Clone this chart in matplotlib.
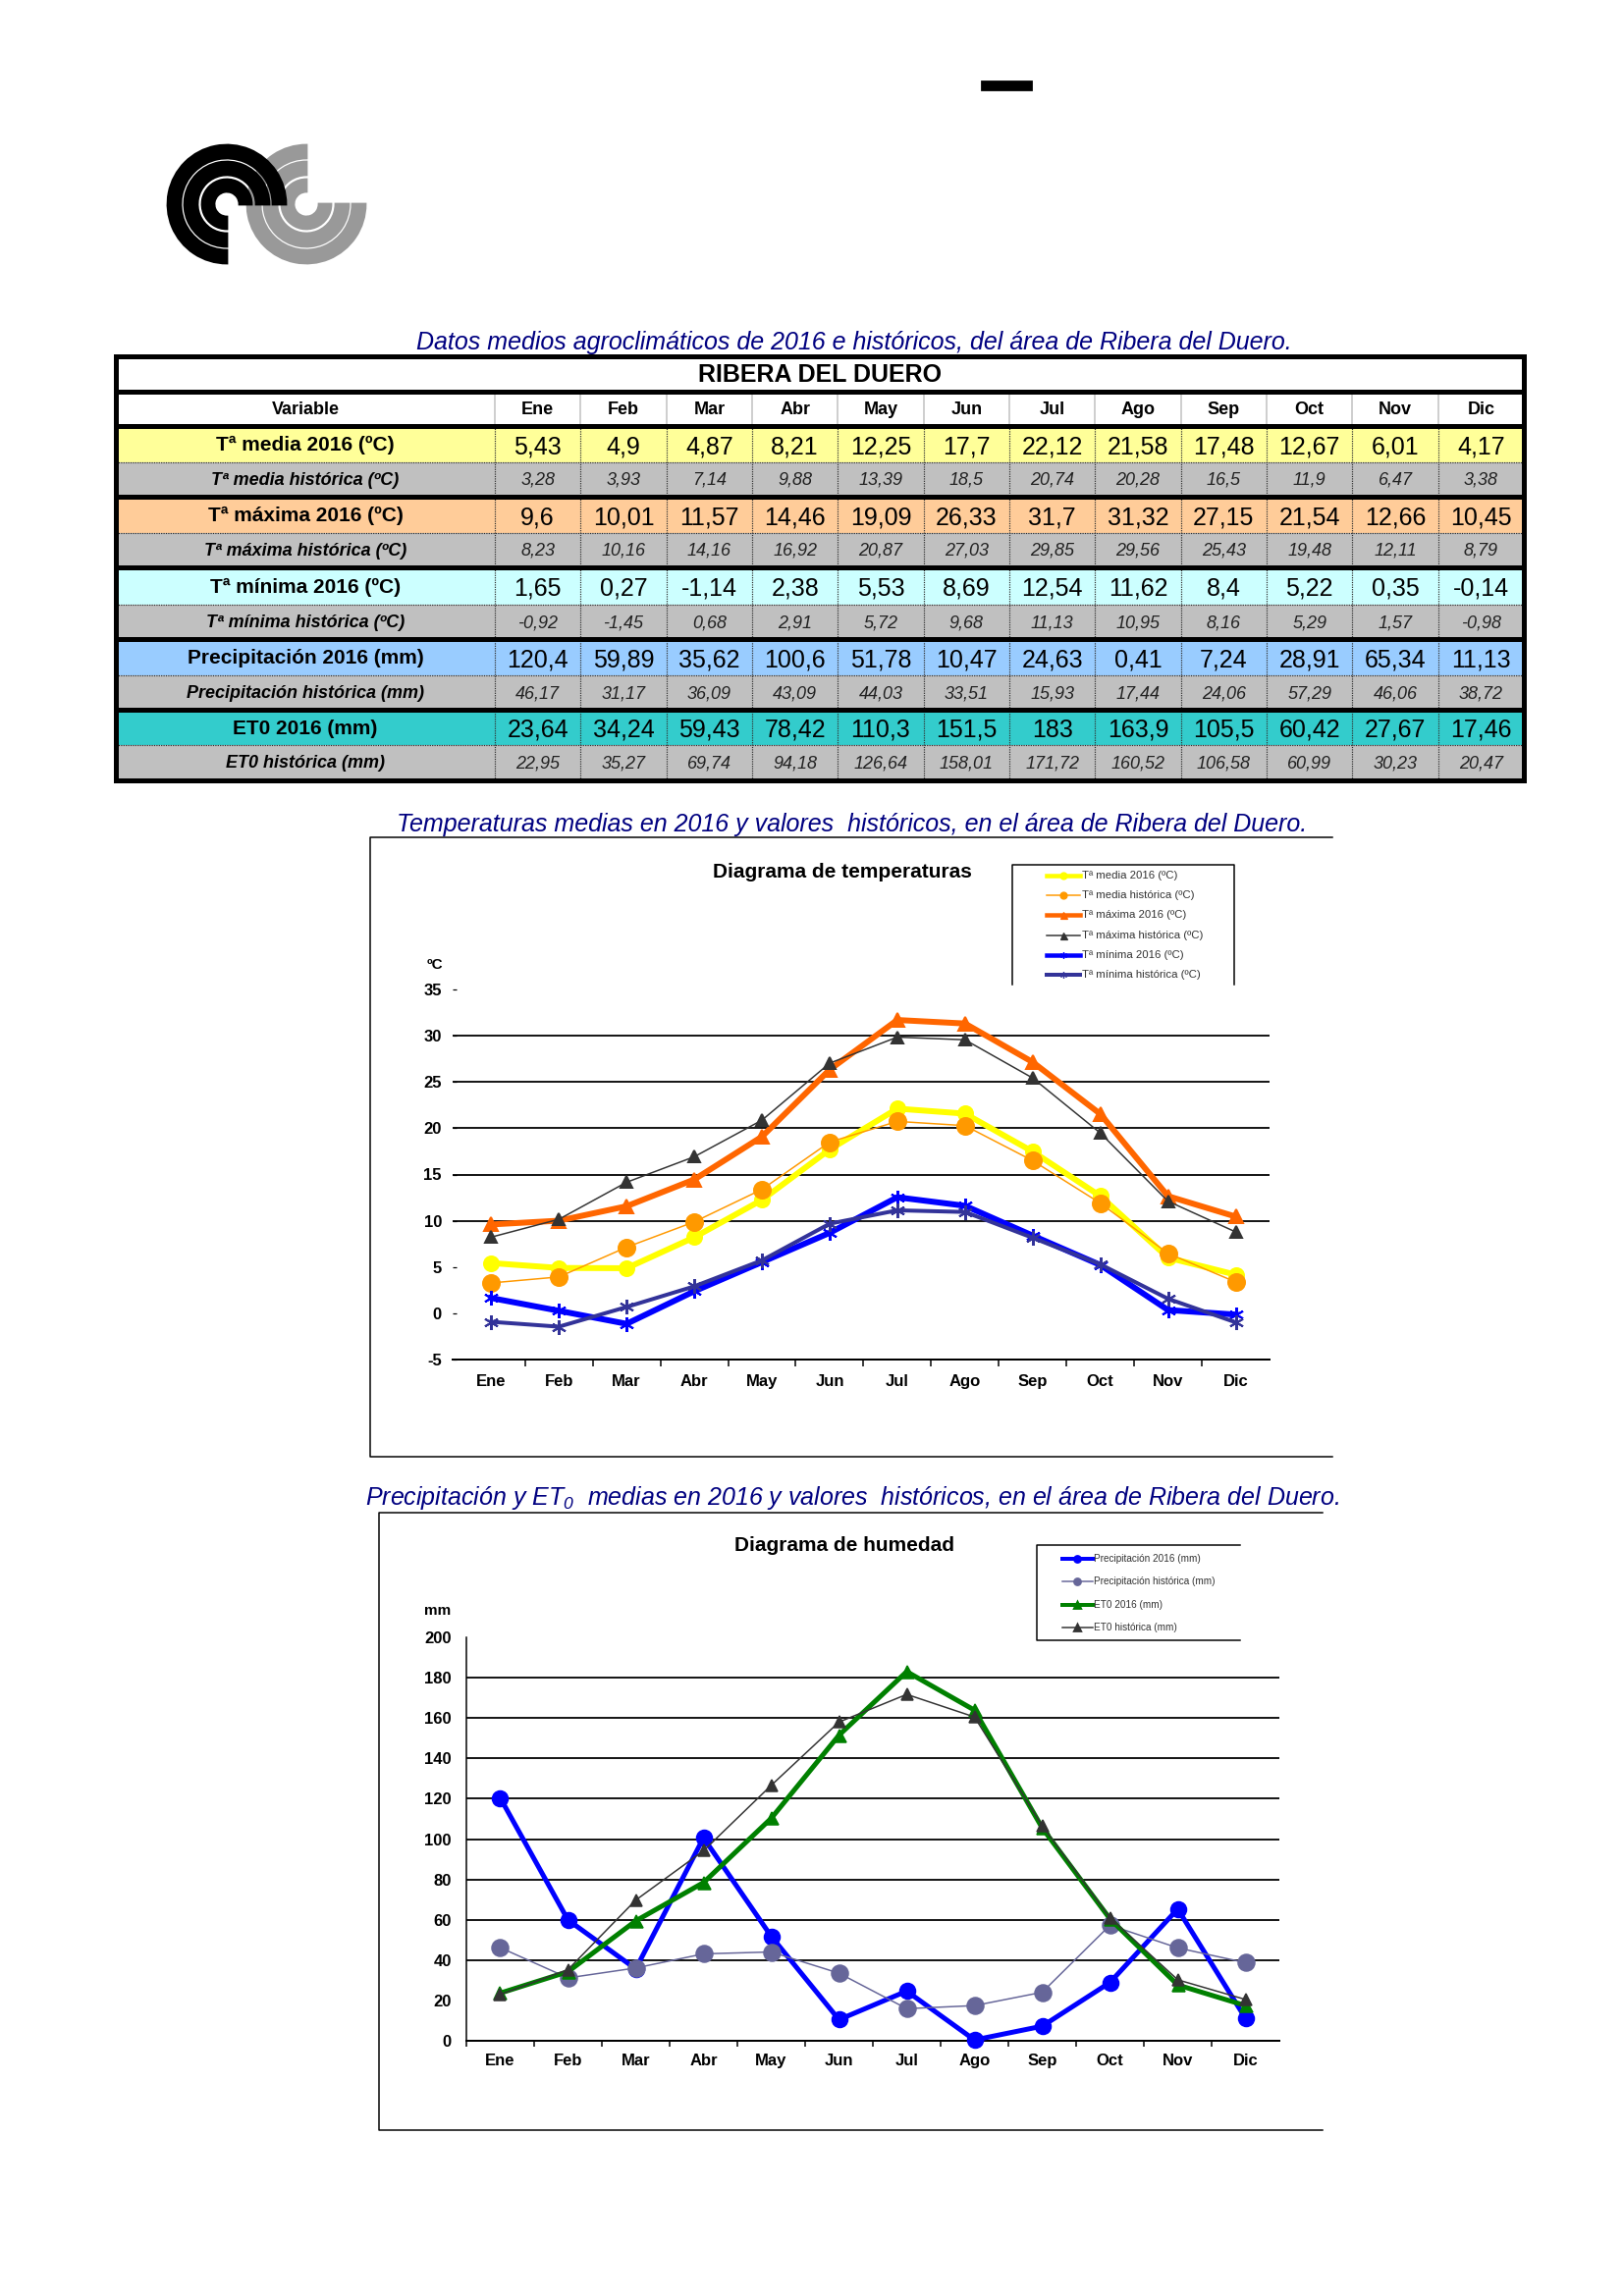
import numpy as np
import matplotlib.pyplot as plt
from matplotlib.patches import Rectangle, Wedge

plt.rcParams['font.family'] = ['Liberation Sans', 'DejaVu Sans']
plt.rcParams['axes.unicode_minus'] = False
plt.rcParams['mathtext.fontset'] = 'custom'
plt.rcParams['mathtext.rm'] = 'Liberation Sans:italic'
plt.rcParams['mathtext.it'] = 'Liberation Sans:italic'

# ---- data (Ribera del Duero, 2016 vs histórico) ----
months = ['Ene', 'Feb', 'Mar', 'Abr', 'May', 'Jun', 'Jul', 'Ago', 'Sep', 'Oct', 'Nov', 'Dic']
t_media_2016 = [5.43, 4.9, 4.87, 8.21, 12.25, 17.7, 22.12, 21.58, 17.48, 12.67, 6.01, 4.17]
t_media_hist = [3.28, 3.93, 7.14, 9.88, 13.39, 18.5, 20.74, 20.28, 16.5, 11.9, 6.47, 3.38]
t_max_2016 = [9.6, 10.01, 11.57, 14.46, 19.09, 26.33, 31.7, 31.32, 27.15, 21.54, 12.66, 10.45]
t_max_hist = [8.23, 10.16, 14.16, 16.92, 20.87, 27.03, 29.85, 29.56, 25.43, 19.48, 12.11, 8.79]
t_min_2016 = [1.65, 0.27, -1.14, 2.38, 5.53, 8.69, 12.54, 11.62, 8.4, 5.22, 0.35, -0.14]
t_min_hist = [-0.92, -1.45, 0.68, 2.91, 5.72, 9.68, 11.13, 10.95, 8.16, 5.29, 1.57, -0.98]
prec_2016 = [120.4, 59.89, 35.62, 100.6, 51.78, 10.47, 24.63, 0.41, 7.24, 28.91, 65.34, 11.13]
prec_hist = [46.17, 31.17, 36.09, 43.09, 44.03, 33.51, 15.93, 17.44, 24.06, 57.29, 46.06, 38.72]
et0_2016 = [23.64, 34.24, 59.43, 78.42, 110.3, 151.5, 183, 163.9, 105.5, 60.42, 27.67, 17.46]
et0_hist = [22.95, 35.27, 69.74, 94.18, 126.64, 158.01, 171.72, 160.52, 106.58, 60.99, 30.23, 20.47]

row_labels = ['Tª media 2016 (ºC)', 'Tª media histórica (ºC)',
              'Tª máxima 2016 (ºC)', 'Tª máxima histórica (ºC)',
              'Tª mínima 2016 (ºC)', 'Tª mínima histórica (ºC)',
              'Precipitación 2016 (mm)', 'Precipitación histórica (mm)',
              'ET0 2016 (mm)', 'ET0 histórica (mm)']
row_values = [t_media_2016, t_media_hist, t_max_2016, t_max_hist, t_min_2016,
              t_min_hist, prec_2016, prec_hist, et0_2016, et0_hist]
row_colors = ['#FFFF99', '#C0C0C0', '#FFCC99', '#C0C0C0', '#CCFFFF',
              '#C0C0C0', '#99CCFF', '#C0C0C0', '#33CCCC', '#C0C0C0']

temp_labels = row_labels[:6]
hum_labels = row_labels[6:]

W, H, DPI = 1653, 2339, 200


def px(v):
    # pixels -> points
    return v * 72 / DPI


def box(x0, x1, ytop, ybot):
    return [x0 / W, 1 - ybot / H, (x1 - x0) / W, (ybot - ytop) / H]


fig = plt.figure(figsize=(W / DPI, H / DPI), dpi=DPI)
page = fig.add_axes([0, 0, 1, 1])
page.set_xlim(0, W)
page.set_ylim(H, 0)
page.axis('off')

# ---- header: logo and dash ----
page.add_patch(Rectangle((1000, 83), 50, 8, color='black'))
for r, w in [(60, 13), (43, 13), (25, 12)]:
    page.add_patch(Wedge((312, 208), r, 0, 270, width=w, color='#999999'))
for r, w in [(60, 13), (43, 13), (25, 12)]:
    page.add_patch(Wedge((231, 208), r, 90, 360, width=w, color='black'))

navy = '#000080'

# ---- table ----
page.text(870, 349, 'Datos medios agroclimáticos de 2016 e históricos, del área de Ribera del Duero.',
          ha='center', va='center', fontsize=9, style='italic', color=navy)

tx0, tx1, var_r = 118, 1552, 504
col_w = (tx1 - var_r) / 12
edges = [363, 399, 434, 471, 506, 543, 578, 616, 651, 688, 723, 759, 795]

page.text((tx0 + tx1) / 2, (edges[0] + edges[1]) / 2 + 1, 'RIBERA DEL DUERO',
          ha='center', va='center', fontsize=9, fontweight='bold')
page.text((tx0 + var_r) / 2, (edges[1] + edges[2]) / 2 + 1, 'Variable',
          ha='center', va='center', fontsize=6.5, fontweight='bold')
for j, m in enumerate(months):
    page.text(var_r + col_w * (j + 0.5), (edges[1] + edges[2]) / 2 + 1, m,
              ha='center', va='center', fontsize=6.5, fontweight='bold')

for i, (lab, vals, col) in enumerate(zip(row_labels, row_values, row_colors)):
    top, bot = edges[2 + i], edges[3 + i]
    mid = (top + bot) / 2 + 1
    hist = i % 2 == 1
    page.add_patch(Rectangle((tx0, top), tx1 - tx0, bot - top, fc=col, ec='none', zorder=0))
    page.text((tx0 + var_r) / 2, mid, lab, ha='center', va='center',
              fontsize=6.5 if hist else 7.5, fontweight='bold',
              style='italic' if hist else 'normal')
    for j, v in enumerate(vals):
        page.text(var_r + col_w * (j + 0.5), mid + (0 if hist else 2),
                  '{:g}'.format(v).replace('.', ','), ha='center', va='center',
                  fontsize=6.5 if hist else 9, style='italic' if hist else 'normal',
                  color='#222222' if hist else 'black')

for k in range(13):
    xv = var_r + col_w * k
    page.plot([xv, xv], [edges[1], edges[2]], color='#C0C0C0', lw=px(1.5))
    if k < 12:
        page.plot([xv, xv], [edges[2], edges[-1]], color='#303030', lw=px(1.2),
                  ls=(0, (1, 1)))
for e in edges[3:-1:2]:
    page.plot([tx0, tx1], [e, e], color='#303030', lw=px(1.2), ls=(0, (1, 1)))
for e in [edges[1], edges[2]] + edges[4:-1:2]:
    page.plot([tx0, tx1], [e, e], color='black', lw=px(5))
page.add_patch(Rectangle((tx0, edges[0]), tx1 - tx0, edges[-1] - edges[0],
                         fc='none', ec='black', lw=px(5), zorder=5))

# ---- temperature chart ----
page.text(868, 840, 'Temperaturas medias en 2016 y valores  históricos, en el área de Ribera del Duero.',
          ha='center', va='center', fontsize=9, style='italic', color=navy)
page.plot([1357, 377, 377, 1357], [853, 853, 1484, 1484], color='black', lw=px(1.5))
page.text(858, 888, 'Diagrama de temperaturas', ha='center', va='center',
          fontsize=7.5, fontweight='bold')
page.text(443, 983, 'ºC', ha='center', va='center', fontsize=5.5, fontweight='bold')

ast = (6, 2, 0)
temp_series = [t_media_2016, t_media_hist, t_max_2016, t_max_hist, t_min_2016, t_min_hist]
temp_styles = [('#FFFF00', 6, 'o', 15), ('#FF9900', 1.5, 'o', 17),
               ('#FF6600', 6, '^', 14), ('#333333', 1.5, '^', 12),
               ('#0000FF', 6, ast, 15), ('#333399', 4, ast, 15)]

x = np.arange(12)
ax1 = fig.add_axes(box(461, 1293, 1008, 1385))
ax1.patch.set_alpha(0)
for yv in [10, 15, 20, 25, 30]:
    ax1.axhline(yv, color='black', lw=px(1.8), zorder=1)
for ys, (c, lw, mk, ms) in zip(temp_series, temp_styles):
    ax1.plot(x, ys, color=c, lw=px(lw), marker=mk, ms=px(ms), mec=c, mfc=c,
             mew=px(2), clip_on=False, zorder=3)
ax1.set_xlim(-0.57, 11.5)
ax1.set_ylim(-5, 35)
for s in ['top', 'right', 'left']:
    ax1.spines[s].set_visible(False)
ax1.spines['bottom'].set_linewidth(px(2))
ax1.set_xticks(x)
ax1.set_xticklabels(months, fontsize=6, fontweight='bold')
ax1.set_xticks(np.arange(0.5, 11, 1), minor=True)
ax1.tick_params(axis='x', which='major', length=0, pad=px(15))
ax1.tick_params(axis='x', which='minor', length=px(7), width=px(1.5))
ax1.set_yticks(range(-5, 40, 5))
ax1.set_yticklabels([str(v) for v in range(-5, 40, 5)], fontsize=6, fontweight='bold')
ax1.tick_params(axis='y', direction='in', length=px(4), width=px(1.2), pad=px(11))

# legend
page.plot([1031, 1031, 1257, 1257], [1003, 881, 881, 1003], color='black', lw=px(1.5))
for k, (lab, (c, lw, mk, ms)) in enumerate(zip(temp_labels, temp_styles)):
    yl = 892 + 20.2 * k
    page.plot([1066, 1100], [yl, yl], color=c, lw=px(min(lw, 4.5)))
    page.plot([1083], [yl], marker=mk, ms=px(7), color=c, mew=px(1.2))
    page.text(1102, yl, lab, ha='left', va='center', fontsize=4.1, color='#333333')

# ---- humidity chart ----
page.text(868, 1526, 'Precipitación y ET$_0$  medias en 2016 y valores  históricos, en el área de Ribera del Duero.',
          ha='center', va='center', fontsize=9, style='italic', color=navy)
page.plot([1347, 386, 386, 1347], [1541, 1541, 2170, 2170], color='black', lw=px(1.5))
page.text(860, 1574, 'Diagrama de humedad', ha='center', va='center',
          fontsize=7.5, fontweight='bold')
page.text(446, 1641, 'mm', ha='center', va='center', fontsize=5.5, fontweight='bold')

hum_series = [prec_2016, prec_hist, et0_2016, et0_hist]
hum_styles = [('#0000FF', 5, 'o', 16), ('#666699', 1.5, 'o', 17),
              ('#008000', 5, '^', 13), ('#333333', 1.5, '^', 12)]

ax2 = fig.add_axes(box(475, 1303, 1668, 2079))
ax2.patch.set_alpha(0)
for yv in range(40, 200, 20):
    ax2.axhline(yv, color='black', lw=px(1.8), zorder=1)
for ys, (c, lw, mk, ms) in zip(hum_series, hum_styles):
    ax2.plot(x, ys, color=c, lw=px(lw), marker=mk, ms=px(ms), mec=c, mfc=c,
             mew=px(1.5), clip_on=False, zorder=3)
ax2.set_xlim(-0.5, 11.5)
ax2.set_ylim(0, 200)
for s in ['top', 'right']:
    ax2.spines[s].set_visible(False)
ax2.spines['bottom'].set_linewidth(px(2))
ax2.spines['left'].set_linewidth(px(1.5))
ax2.set_xticks(x)
ax2.set_xticklabels(months, fontsize=6, fontweight='bold')
ax2.set_xticks(np.arange(-0.5, 11, 1), minor=True)
ax2.tick_params(axis='x', which='major', length=0, pad=px(13))
ax2.tick_params(axis='x', which='minor', length=px(6), width=px(1.5))
ax2.set_yticks(range(0, 220, 20))
ax2.set_yticklabels([str(v) for v in range(0, 220, 20)], fontsize=6, fontweight='bold')
ax2.tick_params(axis='y', length=0, pad=px(15))

# legend
page.plot([1263, 1056, 1056, 1263], [1574, 1574, 1671, 1671], color='black', lw=px(1.5))
for k, (lab, (c, lw, mk, ms)) in enumerate(zip(hum_labels, hum_styles)):
    yl = 1588 + 23.3 * k
    page.plot([1082, 1113], [yl, yl], color=c, lw=px(min(lw, 4)))
    page.plot([1097], [yl], marker=mk, ms=px(6), color=c)
    page.text(1114, yl, lab, ha='left', va='center', fontsize=3.6, color='#333333')

fig.savefig('out.png', dpi=DPI)
